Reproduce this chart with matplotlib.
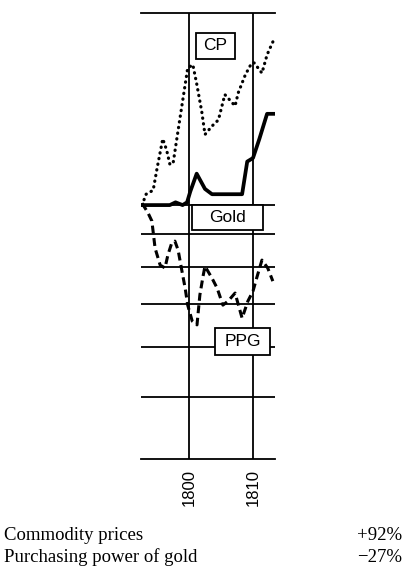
import matplotlib
matplotlib.use("Agg")
import matplotlib.pyplot as plt
from matplotlib.patches import Rectangle

# === data (index, log scale) ===
cp_years = [1792.66, 1793.3, 1794.4, 1795.0, 1795.9, 1796.5, 1797.0, 1797.5,
            1798.5, 1799.8, 1800.6, 1801.2, 1802.0, 1802.5, 1803.6, 1804.6,
            1805.6, 1806.4, 1807.2, 1807.7, 1808.8, 1809.8, 1810.2, 1811.4,
            1812.2, 1813.4]
cp_values = [100, 104, 105.5, 114, 127, 122, 116, 116,
             135, 164, 166, 155, 140, 129, 133, 136,
             149, 146, 143, 150, 160, 167, 167, 161,
             172, 183]

gold_years = [1792.5, 1797.0, 1797.9, 1799.0, 1799.7, 1800.2, 1801.2, 1802.5,
              1803.6, 1808.3, 1809.1, 1810.0, 1811.0, 1812.2, 1813.4]
gold_values = [100, 100, 101, 100, 101, 105, 112, 106,
               104, 104, 117, 118.5, 127, 139, 139]

ppg_years = [1792.66, 1793.6, 1794.2, 1794.7, 1795.5, 1796.25, 1796.7, 1797.3,
             1797.8, 1798.3, 1798.9, 1799.4, 1799.8, 1800.5, 1801.25, 1801.7,
             1802.2, 1802.5, 1803.6, 1804.4, 1805.3, 1806.1, 1807.2, 1808.3,
             1809.2, 1810.0, 1810.6, 1811.4, 1812.3, 1813.1]
ppg_values = [100.7, 97.2, 94.4, 85.6, 80.5, 79.7, 83.5, 87.2,
              87.8, 85.0, 78.8, 74.1, 69.7, 65.8, 64.9, 72.3,
              77.4, 80.2, 76.8, 74.1, 69.7, 70.7, 72.8, 66.5,
              70.7, 73.3, 77.0, 82.0, 79.7, 76.0]

h_lines = [100, 90, 80, 70, 60, 50]
v_lines = [1800, 1810]
tick_labels = ["1800", "1810"]

series_labels = ["CP", "Gold", "PPG"]
summary_labels = ["Commodity prices", "Purchasing power of gold"]
summary_values = ["+92%", "\u221227%"]

# === figure ===
fig = plt.figure(figsize=(4.08, 5.73), dpi=100)
ax = fig.add_axes([141 / 408, 1 - 459 / 573, 134 / 408, 446 / 573])
ax.set_yscale("log")
ax.set_xlim(1792.5, 1813.44)
ax.set_ylim(40, 200)

for s in ["left", "right"]:
    ax.spines[s].set_visible(False)
for s in ["top", "bottom"]:
    ax.spines[s].set_linewidth(1.3)

for v in h_lines:
    ax.axhline(v, color="black", lw=1.3, zorder=1)
for v in v_lines:
    ax.axvline(v, color="black", lw=1.3, zorder=1)

ax.plot(cp_years, cp_values, color="black", lw=2.3, ls=(0, (0.1, 1.7)),
        dash_capstyle="round", zorder=3)
ax.plot(gold_years, gold_values, color="black", lw=2.7, zorder=3,
        solid_joinstyle="round")
ax.plot(ppg_years, ppg_values, color="black", lw=2.2, ls=(0, (2.6, 1.5)),
        zorder=3)

# label boxes (axes fraction: x0, y0, w, h)
boxes = [(0.410, 0.897, 0.291, 0.059),
         (0.381, 0.513, 0.529, 0.057),
         (0.552, 0.233, 0.411, 0.061)]
for lab, (x0, y0, w, h) in zip(series_labels, boxes):
    ax.add_patch(Rectangle((x0, y0), w, h, transform=ax.transAxes,
                           facecolor="white", edgecolor="black", lw=1.3,
                           zorder=5, clip_on=False))
    ax.text(x0 + w / 2, y0 + h / 2, lab, transform=ax.transAxes,
            fontsize=12.5, family="Liberation Sans", ha="center", va="center",
            zorder=6)

ax.set_yticks([])
ax.minorticks_off()
ax.set_xticks(v_lines)
ax.set_xticklabels(tick_labels, rotation=90, fontsize=12,
                   family="Liberation Sans")
ax.tick_params(axis="x", length=0, pad=7)
ax.tick_params(axis="y", which="both", length=0)

for i, (lab, val) in enumerate(zip(summary_labels, summary_values)):
    y = 1 - (536 + i * 21) / 573
    fig.text(4 / 408, y, lab, fontsize=13.5, family="Liberation Serif",
             ha="left", va="center")
    fig.text(402 / 408, y, val, fontsize=13.5, family="Liberation Serif",
             ha="right", va="center")

fig.savefig("out.png", dpi=100)
